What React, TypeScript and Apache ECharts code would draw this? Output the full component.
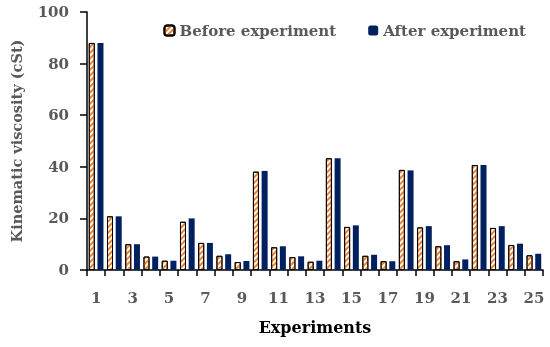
import React, { useEffect, useRef } from "react";
import * as echarts from "echarts";

const categories = Array.from({ length: 25 }, (_, i) => String(i + 1));
const beforeValues = [88.0, 20.8, 10.0, 5.2, 3.6, 18.7, 10.5, 5.5, 3.1, 38.1, 8.8, 5.0, 3.2, 43.3, 16.7, 5.5, 3.4, 38.8, 16.5, 9.2, 3.4, 40.7, 16.3, 9.7, 5.7];
const afterValues = [88.0, 20.8, 10.0, 5.2, 3.6, 20.0, 10.5, 6.1, 3.5, 38.4, 9.2, 5.3, 3.6, 43.3, 17.3, 5.9, 3.4, 38.6, 17.0, 9.6, 4.1, 40.7, 17.0, 10.2, 6.3];
const seriesNames = ["Before experiment", "After experiment"];

const FONT = "'DejaVu Serif', 'Liberation Serif', serif";

export default function App() {
  const ref = useRef<HTMLDivElement>(null);
  useEffect(() => {
    if (!ref.current) return;
    const chart = echarts.init(ref.current, undefined, { renderer: "svg" });
    chart.setOption({
      animation: false,
      textStyle: { fontFamily: FONT },
      legend: {
        top: 18,
        right: 19,
        itemWidth: 10,
        itemHeight: 10,
        itemGap: 32,
        textStyle: { fontFamily: FONT, fontSize: 15, fontWeight: "bold", color: "#595959" },
        data: seriesNames,
      },
      grid: { left: 87, right: 7, top: 12, bottom: 77, containLabel: false, outerBoundsMode: "none" },
      xAxis: {
        type: "category",
        data: categories,
        name: "Experiments",
        nameLocation: "middle",
        nameGap: 49,
        nameTextStyle: { fontFamily: FONT, fontSize: 16, fontWeight: "bold", color: "#000" },
        axisLine: { lineStyle: { color: "#000", width: 1.5 } },
        axisTick: { show: true, interval: 0, length: 6, lineStyle: { color: "#000", width: 1.5 } },
        axisLabel: { interval: 1, margin: 20, fontFamily: FONT, fontSize: 15, fontWeight: "bold", color: "#595959" },
      },
      yAxis: {
        type: "value",
        min: 0,
        max: 100,
        interval: 20,
        name: "Kinematic viscosity (cSt)",
        nameLocation: "middle",
        nameGap: 63,
        nameTextStyle: { fontFamily: FONT, fontSize: 14.5, fontWeight: "bold", color: "#595959" },
        splitLine: { show: false },
        axisLine: { show: true, lineStyle: { color: "#000", width: 1.5 } },
        axisTick: { show: true, length: 7, lineStyle: { color: "#000", width: 1.5 } },
        axisLabel: { margin: 18, fontFamily: FONT, fontSize: 15, fontWeight: "bold", color: "#595959" },
      },
      series: [
        {
          name: seriesNames[0],
          type: "bar",
          data: beforeValues,
          barWidth: 6,
          barGap: "45%",
          itemStyle: {
            color: "#ffffff",
            borderColor: "#000",
            borderWidth: 1,
            decal: {
              symbol: "rect",
              color: "#F0802A",
              dashArrayX: [1, 0],
              dashArrayY: [2, 2],
              rotation: -Math.PI / 4,
              symbolSize: 1,
            },
          },
        },
        {
          name: seriesNames[1],
          type: "bar",
          data: afterValues,
          barWidth: 6,
          itemStyle: { color: "#002060" },
        },
      ],
    });
    return () => chart.dispose();
  }, []);
  return <div ref={ref} style={{ position: "fixed", left: 0, top: 0, width: 550, height: 347 }} />;
}
